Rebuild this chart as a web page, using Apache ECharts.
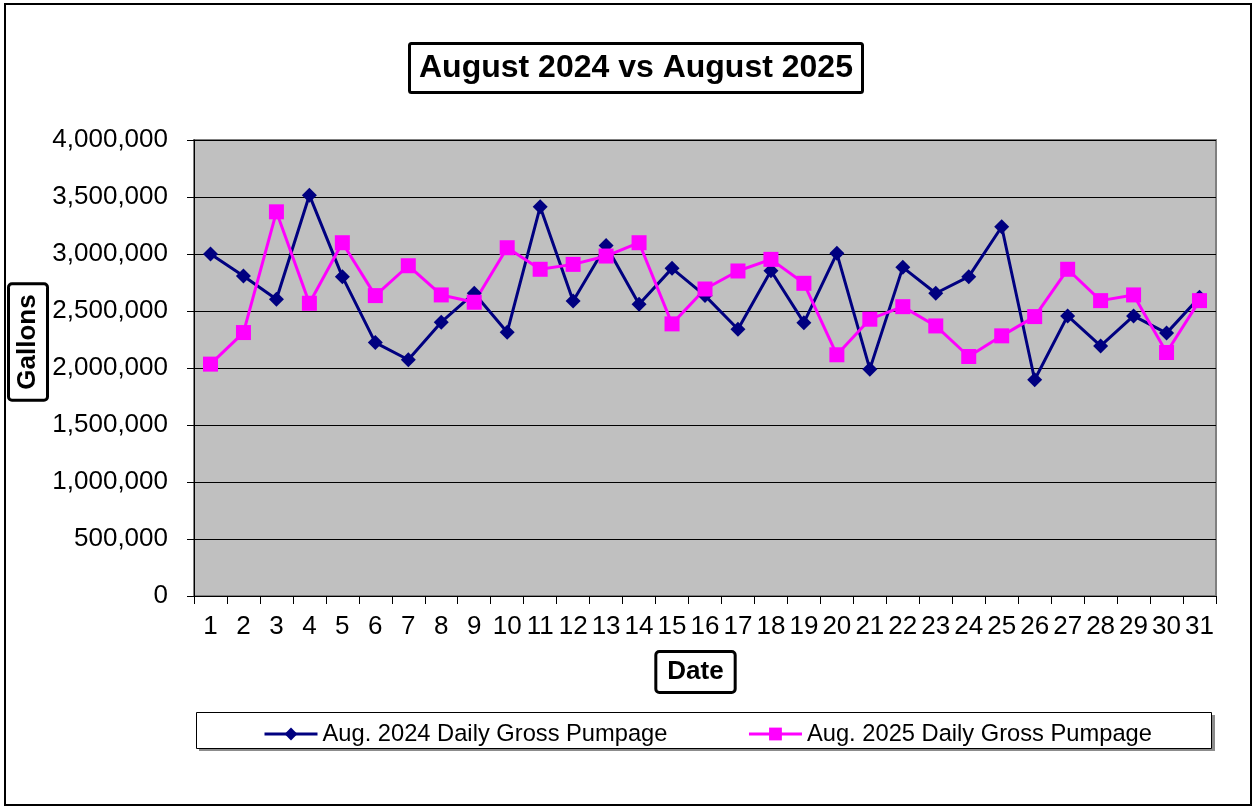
<!DOCTYPE html>
<html>
<head>
<meta charset="utf-8">
<style>
  html, body { margin: 0; padding: 0; background: #fff; }
  #chart { width: 1254px; height: 806px; }
</style>
<script src="https://cdn.jsdelivr.net/npm/echarts@6/dist/echarts.min.js"></script>
</head>
<body>
<div id="chart"></div>
<script>
const titleText = 'August 2024 vs August 2025';
const yAxisTitle = 'Gallons';
const xAxisTitle = 'Date';
const seriesNames = ['Aug. 2024 Daily Gross Pumpage', 'Aug. 2025 Daily Gross Pumpage'];
const days = ['1','2','3','4','5','6','7','8','9','10','11','12','13','14','15','16','17','18','19','20','21','22','23','24','25','26','27','28','29','30','31'];
const aug2024 = [3000000, 2807000, 2603000, 3516000, 2801000, 2223000, 2072000, 2402000, 2656000, 2314000, 3414000, 2588000, 3075000, 2559000, 2874000, 2635000, 2340000, 2853000, 2398000, 3006000, 1990000, 2883000, 2656000, 2801000, 3239000, 1897000, 2457000, 2194000, 2457000, 2306000, 2621000];
const aug2025 = [2034000, 2311000, 3370000, 2568000, 3099000, 2635000, 2897000, 2641000, 2577000, 3055000, 2866000, 2909000, 2982000, 3099000, 2387000, 2693000, 2851000, 2953000, 2743000, 2116000, 2428000, 2538000, 2369000, 2101000, 2282000, 2451000, 2866000, 2591000, 2641000, 2136000, 2591000];

const FONT = '"Liberation Sans", Arial, sans-serif';
const chart = echarts.init(document.getElementById('chart'), null, { renderer: 'canvas' });

const option = {
  animation: false,
  backgroundColor: '#ffffff',
  title: {
    text: titleText,
    left: 409,
    top: 43,
    padding: [7, 10, 7, 10],
    backgroundColor: '#ffffff',
    borderColor: '#000000',
    borderWidth: 3,
    borderRadius: 2,
    textStyle: { fontFamily: FONT, fontSize: 32, fontWeight: 'bold', color: '#000', lineHeight: 36 }
  },
  graphic: [
    { type: 'rect', z: -10, shape: { x: 5, y: 4, width: 1246, height: 801 }, style: { fill: '#fff', stroke: '#000', lineWidth: 2 } },
    { type: 'rect', z: 1, shape: { x: 199, y: 715, width: 1016, height: 36 }, style: { fill: '#8c8c8c' } },
    { type: 'rect', z: 2, shape: { x: 196.5, y: 712.5, width: 1015, height: 36 }, style: { fill: '#fff', stroke: '#000', lineWidth: 1 } },
    { type: 'text', z: 5, x: 28, y: 342, rotation: Math.PI / 2,
      style: { text: yAxisTitle, font: 'bold 26px ' + FONT, fill: '#000', align: 'center', verticalAlign: 'middle',
               backgroundColor: '#fff', borderColor: '#000', borderWidth: 3, borderRadius: 2, padding: [4, 9, 4, 9], lineHeight: 28 } },
    { type: 'text', z: 5, x: 695.5, y: 672,
      style: { text: xAxisTitle, font: 'bold 26px ' + FONT, fill: '#000', align: 'center', verticalAlign: 'middle',
               backgroundColor: '#fff', borderColor: '#000', borderWidth: 3, borderRadius: 2, padding: [5, 10, 5, 10], lineHeight: 28 } }
  ],
  legend: {
    z: 10,
    left: 263,
    top: 722,
    padding: 0,
    itemWidth: 53,
    itemHeight: 16,
    itemGap: 80,
    lineStyle: { width: 3 },
    textStyle: { fontFamily: FONT, fontSize: 23.7, color: '#000', padding: [0, 0, 0, 0] },
    data: seriesNames
  },
  grid: {
    left: 194, top: 140, right: 38, bottom: 210,
    show: true,
    backgroundColor: '#c0c0c0',
    borderColor: '#808080',
    borderWidth: 2
  },
  xAxis: {
    type: 'category',
    data: days,
    boundaryGap: true,
    axisLine: { show: true, lineStyle: { color: '#000', width: 1 } },
    axisTick: { show: true, length: 8, lineStyle: { color: '#000' }, interval: 0 },
    axisLabel: { interval: 0, fontFamily: FONT, fontSize: 26, color: '#000', margin: 18 },
    splitLine: { show: false }
  },
  yAxis: {
    type: 'value',
    min: 0, max: 4000000, interval: 500000,
    axisLine: { show: true, lineStyle: { color: '#000', width: 1 } },
    axisTick: { show: true, length: 7, lineStyle: { color: '#000' } },
    axisLabel: {
      fontFamily: FONT, fontSize: 26, color: '#000', margin: 26,
      formatter: v => v.toLocaleString('en-US')
    },
    splitLine: { show: true, lineStyle: { color: '#000', width: 1 } }
  },
  series: [
    {
      name: seriesNames[0], type: 'line', data: aug2024,
      symbol: 'diamond', symbolSize: 15,
      lineStyle: { color: '#000080', width: 3 },
      itemStyle: { color: '#000080' }
    },
    {
      name: seriesNames[1], type: 'line', data: aug2025,
      symbol: 'rect', symbolSize: 15,
      lineStyle: { color: '#ff00ff', width: 3 },
      itemStyle: { color: '#ff00ff' }
    }
  ]
};
chart.setOption(option);
</script>
</body>
</html>
